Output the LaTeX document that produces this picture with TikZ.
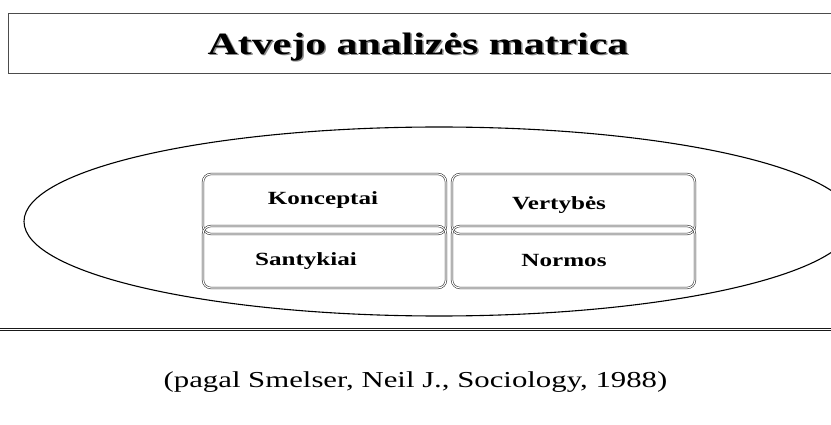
\documentclass[tikz,border=0pt]{standalone}
\usepackage{fontspec}
\newfontfamily\wideserif[FakeStretch=1.35]{Liberation Serif}
\tikzset{
  cellbox/.style={draw=black!85, double, double distance=1.1pt, line width=0.55pt,
    rounded corners=8pt, minimum width=243pt, inner sep=0pt},
  celltext/.style={anchor=base, inner sep=0pt, font=\wideserif\bfseries\fontsize{18.6}{20}\selectfont},
  titletext/.style={anchor=base, inner sep=0pt, font=\wideserif\bfseries\fontsize{31}{36}\selectfont},
}
\begin{document}
\begin{tikzpicture}[x=1pt,y=-1pt]
\useasboundingbox (0,0) rectangle (831,425);
\clip (0,0) rectangle (831,425);
% title frame
\node[draw=black!70, line width=1.3pt, minimum width=840pt, minimum height=60pt, inner sep=0pt, anchor=north west] (titlebox) at (8,13) {};
\node[titletext, text=black!45] (titleshadow) at (419.5,56) {Atvejo analizės matrica};
\node[titletext] (title) at (418,54.5) {Atvejo analizės matrica};
% ellipse
\draw[line width=1.1pt] (439,221.5) ellipse [x radius=415, y radius=94.5];
% boxes
\node[cellbox, minimum height=60pt] (b1) at (324.5,204) {};
\node[cellbox, minimum height=62pt] (b3) at (324.5,257) {};
\node[cellbox, minimum height=60pt] (b2) at (573.5,204) {};
\node[cellbox, minimum height=62pt] (b4) at (573.5,257) {};
\node[celltext] (t1) at (323,205) {Konceptai};
\node[celltext] (t3) at (306,265.5) {Santykiai};
\node[celltext] (t2) at (559,210) {Vertybės};
\node[celltext] (t4) at (564,266) {Normos};
% bottom double rule
\coordinate (la) at (0,328.6);
\coordinate (lb) at (831,328.6);
\coordinate (lc) at (0,330.9);
\coordinate (ld) at (831,330.9);
\draw[line width=1.1pt, black!90] (la) -- (lb);
\draw[line width=0.9pt, black!90] (lc) -- (ld);
% source
\node[anchor=base, inner sep=0pt, font=\wideserif\fontsize{22.8}{26}\selectfont] (src) at (415.5,387) {(pagal Smelser, Neil J., Sociology, 1988)};
\end{tikzpicture}
\end{document}
